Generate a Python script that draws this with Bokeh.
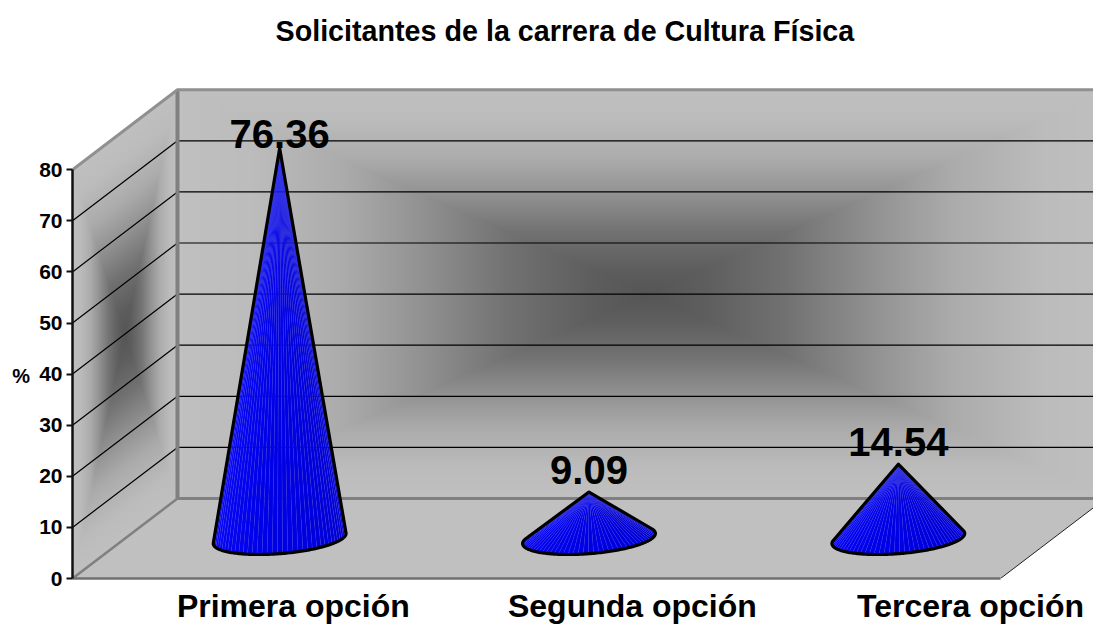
import numpy as np
from bokeh.embed import file_html
from bokeh.resources import INLINE
from bokeh.plotting import figure
from bokeh.models import ColumnDataSource, FixedTicker, Title, Range1d
from bokeh.core.properties import value

# ---------- data ----------
categories = ["Primera opción", "Segunda opción", "Tercera opción"]
percentages = [76.36, 9.09, 14.54]
percent_labels = ["76.36", "9.09", "14.54"]
y_ticks = [0, 10, 20, 30, 40, 50, 60, 70, 80]
category_label_pos = [0.714, 1.810, 2.903]
label_shift_px = [-14, -22, -22]
title_text = "Solicitantes de la carrera de Cultura Física"

# ---------- layout of the oblique 3D box ----------
BAND_PX = 309.33      # px per category band
UNIT_PX = 5.11        # px per percentage point
LEFT_PX, RIGHT_PX = 72, 1093
TOP_PX, FLOOR_PX = 70, 578
DEPTH_X = 105 / BAND_PX
DEPTH_Y = 80 / UNIT_PX
X_END = (RIGHT_PX - LEFT_PX) / BAND_PX
Y_END = (FLOOR_PX - TOP_PX) / UNIT_PX
CONE_R = 0.2036
CONE_DEPTH = 0.2
FONT = "Liberation Sans"

p = figure(
    x_range=Range1d(0, X_END), y_range=Range1d(0, Y_END),
    frame_width=RIGHT_PX - LEFT_PX, frame_height=FLOOR_PX - TOP_PX,
    output_backend="svg", toolbar_location=None,
    min_border_left=LEFT_PX, min_border_right=0, min_border_top=0, min_border_bottom=0,
    x_axis_location="below", y_axis_location="left",
    background_fill_color="white", border_fill_color="white",
)
p.styles = {"position": "absolute", "left": "0px", "top": "0px", "overflow": "hidden",
            "width": "1093px", "height": "624px"}
p.outline_line_color = None
p.grid.visible = False

# ---------- title (with a small spacer panel between it and the plot) ----------
p.add_layout(Title(text=" ", text_font_size="1px", standoff=4), "above")
p.title = Title(text=title_text, align="left", offset=203, standoff=29, vertical_align="top",
                text_font=FONT, text_font_size="28.7px", text_font_style="bold",
                text_color="black")

# ---------- axes ----------
ya = p.yaxis[0]
ya.ticker = FixedTicker(ticks=y_ticks)
ya.bounds = (y_ticks[0], y_ticks[-1])
ya.axis_line_color = "#111111"
ya.axis_line_width = 2.5
ya.major_tick_line_color = "#111111"
ya.major_tick_line_width = 2
ya.major_tick_out = 6
ya.major_tick_in = 0
ya.minor_tick_line_color = None
ya.major_label_text_font = FONT
ya.major_label_text_font_size = "21px"
ya.major_label_text_font_style = "bold"
ya.major_label_text_color = "black"
ya.major_label_standoff = 4
# leading blank lines drop the centred "%" to the height of the 40 tick
ya.axis_label = "\n\n\n\n%"
ya.axis_label_orientation = "horizontal"
ya.axis_label_text_font = FONT
ya.axis_label_text_font_size = "20px"
ya.axis_label_text_font_style = "bold"
ya.axis_label_text_color = "black"
ya.axis_label_text_line_height = 1.17
ya.axis_label_standoff = 6

xa = p.xaxis[0]
xa.ticker = FixedTicker(ticks=category_label_pos)
xa.major_label_overrides = dict(zip(category_label_pos, categories))
xa.bounds = (0, 3)
xa.axis_line_color = "#707070"
xa.axis_line_width = 2.5
xa.major_tick_line_color = None
xa.minor_tick_line_color = None
xa.major_tick_out = 0
xa.major_tick_in = 0
xa.major_label_standoff = 9
xa.major_label_text_font = FONT
xa.major_label_text_font_size = "32px"
xa.major_label_text_font_style = "bold"
xa.major_label_text_color = "black"

# ---------- wall shading (a rectangular path gradient) ----------
def shade(t):
    return np.interp(t, [0, .12, .3, .5, .66, .85, 1],
                     [0x56, 0x5e, 0x72, 0x94, 0xac, 0xbc, 0xc0])

W, H = RIGHT_PX - LEFT_PX, FLOOR_PX - TOP_PX
xs = (np.arange(W) + .5) / BAND_PX
ys = (np.arange(H) + .5) / UNIT_PX
gx, gy = np.meshgrid(xs, ys)
img = np.zeros((H, W, 4), dtype=np.uint8)
top = y_ticks[-1]
# back wall
bu = (gx - DEPTH_X - 0.02) / 3 * 2 - 1
bv = (gy - DEPTH_Y) / top * 2 - 1
back = (gx >= DEPTH_X) & (np.abs(bv) <= 1)
# side wall (sheared)
s = gx / DEPTH_X
sv = (gy - s * DEPTH_Y) / top * 2 - 1
side = (s < 1) & (np.abs(sv) <= 1)
g = np.zeros_like(gx)
g[back] = shade(np.maximum(np.abs(bu), np.abs(bv))[back])
g[side] = shade(np.maximum(np.abs(2 * s - 1), np.abs(sv))[side])
img[..., 0] = img[..., 1] = img[..., 2] = g.astype(np.uint8)
img[..., 3] = np.where(back | side, 255, 0)
p.image_rgba(image=[img.astype(np.uint8).view(np.uint32).reshape(H, W)],
             x=0, y=0, dw=X_END, dh=Y_END)

# ---------- floor ----------
p.patch([0, 3, 3 + DEPTH_X, DEPTH_X], [0, 0, DEPTH_Y, DEPTH_Y],
        fill_color="#c0c0c0", line_color=None)
p.line([3, 3 + DEPTH_X], [0, DEPTH_Y], line_color="#222222", line_width=1)

# ---------- grid lines on both walls ----------
grid = [t for t in y_ticks if 0 < t < top]
p.multi_line(
    xs=[[0, DEPTH_X, X_END + 1] for _ in grid],
    ys=[[t, t + DEPTH_Y, t + DEPTH_Y] for t in grid],
    line_color="#000000", line_width=1.2,
)

# ---------- box edges ----------
p.line([0, DEPTH_X], [0, DEPTH_Y], line_color="#808080", line_width=2.5)
p.line([DEPTH_X, DEPTH_X], [DEPTH_Y, top + DEPTH_Y], line_color="#808080", line_width=4)
p.line([DEPTH_X, X_END + 1], [DEPTH_Y, DEPTH_Y], line_color="#808080", line_width=3)
p.line([0, DEPTH_X, X_END + 1], [top, top + DEPTH_Y, top + DEPTH_Y],
       line_color="#909090", line_width=3)

# ---------- cones ----------
def cone(i, val):
    cx = i + .5 + .5 * DEPTH_X
    cy = .5 * DEPTH_Y
    ax, ay = cx, cy + val
    th = np.linspace(np.pi / 2, 2.5 * np.pi, 241)
    px = cx + CONE_R * np.cos(th) + CONE_DEPTH * np.sin(th) * DEPTH_X
    py = cy + CONE_DEPTH * np.sin(th) * DEPTH_Y
    ang = np.arctan2((px - ax) * BAND_PX, (ay - py) * UNIT_PX)
    a, b = int(np.argmin(ang)), int(np.argmax(ang))
    return ax, ay, px[a:b + 1], py[a:b + 1]

def blue(f):
    r = int(np.interp(f, [0, .5, 1], [8, 0, 0]))
    bl = int(np.interp(f, [0, .5, 1], [250, 228, 205]))
    return f"#{r:02x}{r:02x}{bl:02x}"

for i, val in enumerate(percentages):
    ax, ay, ex, ey = cone(i, val)
    step = 3
    idx = list(range(0, len(ex) - 1, step))
    fx, fy, fc = [], [], []
    for j in idx:
        k = min(j + step, len(ex) - 1)
        fx.append([ax, *ex[j:k + 1]])
        fy.append([ay, *ey[j:k + 1]])
        fc.append(blue(j / max(1, len(ex) - 1)))
    p.patches(fx, fy, fill_color=fc, line_color="#4a4aff", line_width=0.5, line_alpha=0.35)
    p.patch([ax, *ex], [ay, *ey], fill_color=None, line_color="black",
            line_width=3.2, line_join="round")

# ---------- value labels ----------
lab = ColumnDataSource(dict(
    x=[i + .5 + .5 * DEPTH_X for i in range(len(percentages))],
    y=[.5 * DEPTH_Y + v for v in percentages],
    t=percent_labels,
    off=label_shift_px,
))
p.text(x="x", y="y", text="t", y_offset="off", source=lab, text_align="center",
       text_baseline="alphabetic", text_font=value(FONT), text_font_size="40px",
       text_font_style="bold", text_color="black")

open("out.html", "w").write(file_html(p, INLINE))
